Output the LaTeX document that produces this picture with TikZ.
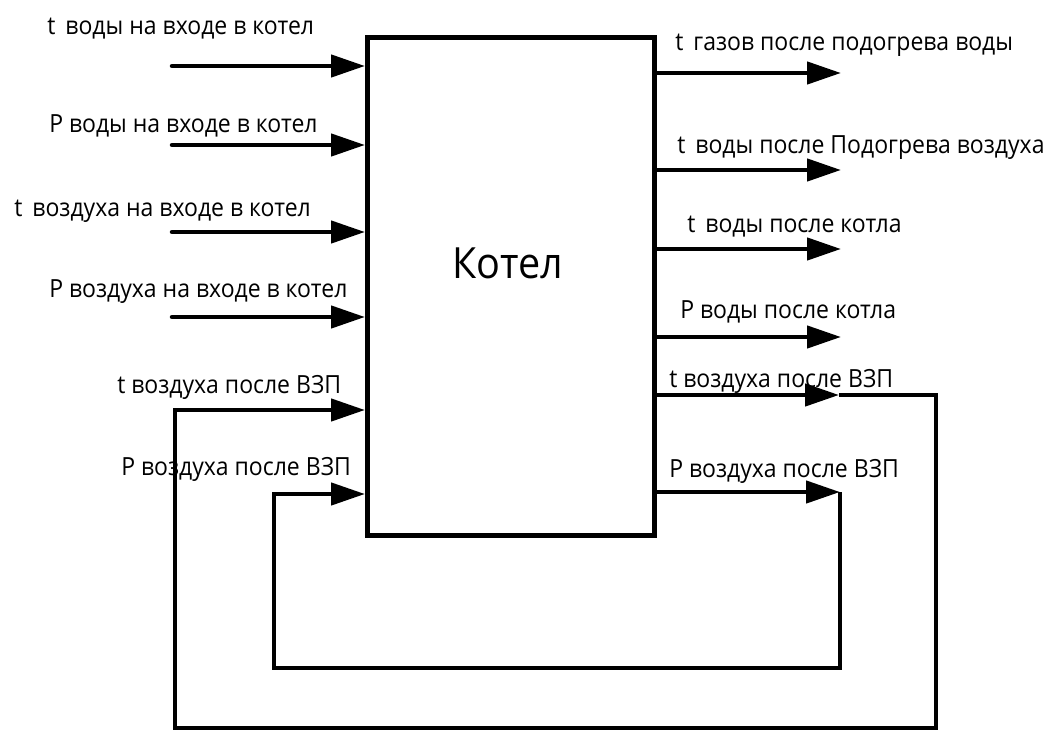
\documentclass[tikz,border=0pt]{standalone}
\usepackage{fontspec}
\setmainfont{Open Sans}[FakeStretch=0.92]
\usetikzlibrary{arrows.meta}
\begin{document}
\begin{tikzpicture}[x=1pt,y=-1pt, line width=4.5pt,
  arr/.style={-{Triangle[length=34pt,width=22pt]}},
  lbl/.style={anchor=base west, inner sep=0pt, font=\fontsize{25}{30}\selectfont},
  boxstyle/.style={draw, line width=4.5pt, inner sep=0pt, minimum width=287pt, minimum height=498pt, anchor=north west}]
\useasboundingbox[fill=white] (0,0) rectangle (1047,731);
\node[boxstyle] (boiler) at (365,35) {};
\node[anchor=base, inner sep=0pt, font=\fontsize{43}{50}\selectfont] (title) at (508,278) {Котел};
% input coordinates
\coordinate (i1) at (172,66);
\coordinate (i2) at (172,145);
\coordinate (i3) at (172,232);
\coordinate (i4) at (172,317);
\coordinate (i5) at (175,410);
\coordinate (i6) at (274,494);
% outputs
\coordinate (o1) at (841,73);
\coordinate (o2) at (841,170);
\coordinate (o3) at (841,249);
\coordinate (o4) at (841,337);
\coordinate (o5) at (839,395);
\coordinate (o6) at (840,492);
\coordinate (oR) at (936,728);
\coordinate (oL) at (175,728);
\coordinate (iR) at (840,668);
\coordinate (iL) at (274,668);
% labels
\node[lbl] (l1) at (45,34) {t\, воды на входе в котел};
\node[lbl] (l2) at (47,132) {P воды на входе в котел};
\node[lbl] (l3) at (12,216) {t\, воздуха на входе в котел};
\node[lbl] (l4) at (47,297) {P воздуха на входе в котел};
\node[lbl] (l5) at (115,393) {t воздуха после ВЗП};
\node[lbl] (l6) at (119,475) {P воздуха после ВЗП};
\node[lbl] (r1) at (673,50) {t\, газов после подогрева воды};
\node[lbl] (r2) at (675,153) {t\, воды после Подогрева воздуха};
\node[lbl] (r3) at (685,232) {t\, воды после котла};
\node[lbl] (r4) at (678,318) {P воды после котла};
\node[lbl] (r5) at (667,387) {t воздуха после ВЗП};
\node[lbl] (r6) at (667,477) {P воздуха после ВЗП};
% input arrows
\draw[arr, line cap=round] (i1) -- (i1 -| boiler.west);
\draw[arr, line cap=round] (i2) -- (i2 -| boiler.west);
\draw[arr, line cap=round] (i3) -- (i3 -| boiler.west);
\draw[arr, line cap=round] (i4) -- (i4 -| boiler.west);
% output arrows
\draw[arr] (o1 -| boiler.east) -- (o1);
\draw[arr] (o2 -| boiler.east) -- (o2);
\draw[arr] (o3 -| boiler.east) -- (o3);
\draw[arr] (o4 -| boiler.east) -- (o4);
\draw[arr] (o5 -| boiler.east) -- (o5);
\draw[arr] (o6 -| boiler.east) -- (o6);
% feedback loops
\draw[arr] (o5) -| (oR) -- (oL) |- (i5 -| boiler.west);
\draw[arr] (o6) -- (iR) -- (iL) |- (i6 -| boiler.west);
\end{tikzpicture}
\end{document}
